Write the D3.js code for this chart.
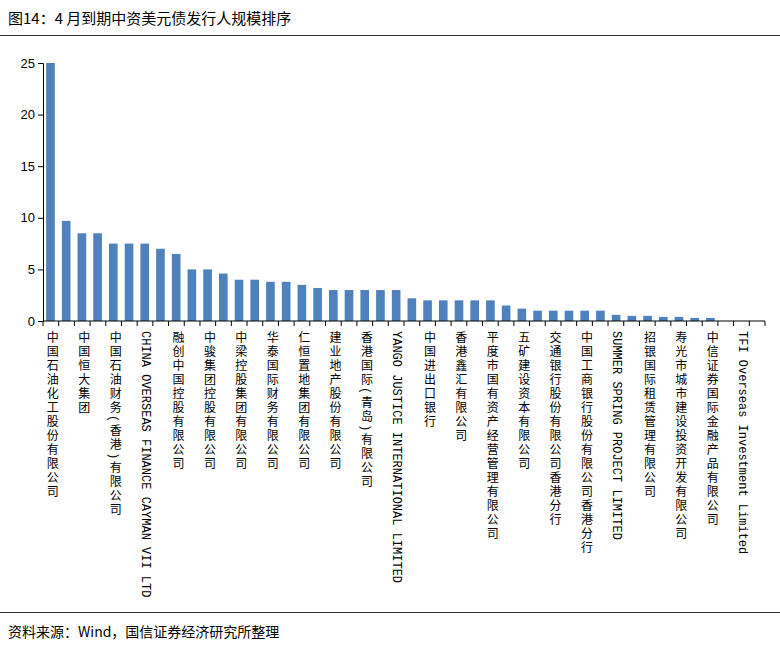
<!DOCTYPE html><html><head><meta charset="utf-8">
<script src="https://cdn.jsdelivr.net/npm/d3@7"></script>
<style>body{margin:0;background:#fff;font-family:"Noto Sans CJK SC",sans-serif}</style></head><body>
<svg id="c" width="780" height="650"></svg>
<script>
const labels=["中国石油化工股份有限公司","中国恒大集团","中国石油财务(香港)有限公司","CHINA OVERSEAS FINANCE CAYMAN VII LTD","融创中国控股有限公司","中骏集团控股有限公司","中梁控股集团有限公司","华泰国际财务有限公司","仁恒置地集团有限公司","建业地产股份有限公司","香港国际(青岛)有限公司","YANGO JUSTICE INTERNATIONAL LIMITED","中国进出口银行","香港鑫汇有限公司","平度市国有资产经营管理有限公司","五矿建设资本有限公司","交通银行股份有限公司香港分行","中国工商银行股份有限公司香港分行","SUMMER SPRING PROJECT LIMITED","招银国际租赁管理有限公司","寿光市城市建设投资开发有限公司","中信证券国际金融产品有限公司","TFI Overseas Investment Limited"];
const values=[25,9.7,8.5,8.5,7.5,7.5,7.5,7.0,6.5,5.0,5.0,4.6,4.0,4.0,3.8,3.8,3.5,3.2,3.0,3.0,3.0,3.0,3.0,2.2,2.0,2.0,2.0,2.0,2.0,1.5,1.2,1.0,1.0,1.0,1.0,1.0,0.6,0.5,0.5,0.4,0.4,0.3,0.3,0,0,0];
const yTicks=[0,5,10,15,20,25];
const svg=d3.select("#c");
svg.append("text").attr("x",8).attr("y",24).attr("font-size",15).attr("fill","#000").text("图14：4 月到期中资美元债发行人规模排序");
svg.append("line").attr("x1",0).attr("x2",780).attr("y1",35.5).attr("y2",35.5).attr("stroke","#333");
svg.append("line").attr("x1",0).attr("x2",780).attr("y1",612.5).attr("y2",612.5).attr("stroke","#333");
svg.append("text").attr("x",8).attr("y",637).attr("font-size",14).text("资料来源：Wind，国信证券经济研究所整理");
const x=d3.scaleBand().domain(d3.range(values.length)).range([43,765]).paddingInner(0.45).paddingOuter(0.2);
const y=d3.scaleLinear().domain([0,25]).range([321,63]);
svg.append("g").selectAll("rect").data(values).join("rect")
 .attr("x",(d,i)=>x(i)).attr("width",x.bandwidth()).attr("y",d=>y(d)).attr("height",d=>y(0)-y(d)).attr("fill","#4f81bd");
const ya=svg.append("g").attr("transform","translate(43,0)").call(d3.axisLeft(y).tickValues(yTicks).tickSize(5));
ya.selectAll("text").attr("font-size",13).attr("font-family","Liberation Sans,sans-serif").attr("fill","#000");
ya.select(".domain").attr("stroke","#000");
const xa=svg.append("g").attr("transform","translate(0,321)");
xa.append("line").attr("x1",43).attr("x2",765).attr("stroke","#000");
xa.selectAll("line.t").data(d3.range(values.length+1)).join("line").attr("class","t")
 .attr("x1",i=>43+(765-43)*i/values.length).attr("x2",i=>43+(765-43)*i/values.length).attr("y1",0).attr("y2",5).attr("stroke","#000");
xa.selectAll("text").data(labels).join("text")
 .attr("x",(d,i)=>x(i*2)+x.bandwidth()/2).attr("y",10)
 .attr("font-size",12).attr("fill","#000")
 .attr("font-family","Liberation Mono,Noto Sans CJK SC,monospace")
 .style("letter-spacing",d=>/[\u4e00-\u9fff]/.test(d)?"2px":"0px")
 .style("writing-mode","vertical-rl")
 .attr("dominant-baseline","middle")
 .text(d=>d);
</script></body></html>
